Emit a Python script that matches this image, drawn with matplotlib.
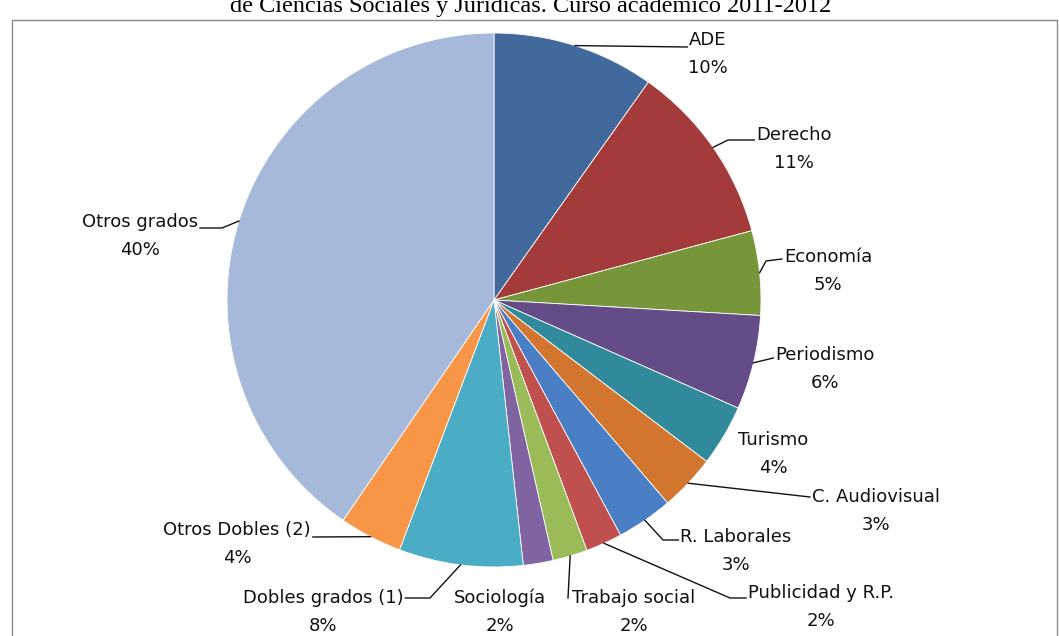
import numpy as np
import matplotlib
matplotlib.use("Agg")
import matplotlib.pyplot as plt
from matplotlib.patches import Rectangle

# Data (share of students, %)
categories = ['ADE', 'Derecho', 'Economía', 'Periodismo', 'Turismo', 'C. Audiovisual',
              'R. Laborales', 'Publicidad y R.P.', 'Trabajo social', 'Sociología',
              'Dobles grados (1)', 'Otros Dobles (2)', 'Otros grados']
values = [9.8, 11.0, 5.1, 5.7, 3.7, 3.4, 3.4, 2.2, 2.1, 1.8, 7.5, 3.8, 40.4]
colors = ['#41699B', '#A33B3A', '#77963A', '#644C86', '#31899C', '#D2752F',
          '#4A7FC6', '#C0504D', '#9BBB59', '#8064A2', '#4BACC6', '#F79646', '#A7B9DA']

W, H = 1059, 636
fig = plt.figure(figsize=(W / 100, H / 100), dpi=100)
ax = fig.add_axes([0, 0, 1, 1])

cx, cy, R = 494, H - 300, 267
wedges, _ = ax.pie(values, colors=colors, startangle=90, counterclock=False,
                   center=(cx, cy), radius=R, frame=True,
                   wedgeprops=dict(edgecolor='white', linewidth=0.6))
ax.set_xlim(0, W)
ax.set_ylim(0, H)
ax.set_aspect('equal')
ax.axis('off')

# plot area border (cut at the bottom like the original)
ax.add_patch(Rectangle((12, -10), 1045, H - 20 + 10, fill=False,
                       edgecolor='#8c8c8c', linewidth=1.0))

# title (top part is cropped in the original)
ax.text(531, H - 12, 'de Ciencias Sociales y Jurídicas. Curso académico 2011-2012',
        ha='center', va='baseline', fontsize=17.5, family='Liberation Serif')

# label placement in pixels from the top: text centre, leader elbows, y of last leg
layout = {
    'ADE': ((708, 40), [], 47),
    'Derecho': ((794, 135), [(728, 140)], 140),
    'Economía': ((828, 257), [(766, 261)], 259),
    'Periodismo': ((825, 355), [], 358),
    'Turismo': ((773, 440), None, None),
    'C. Audiovisual': ((876, 497), [], 497),
    'R. Laborales': ((736, 537), [(663, 540)], 540),
    'Publicidad y R.P.': ((821, 593), [(730, 598)], 598),
    'Trabajo social': ((634, 598), [(568, 598)], None),
    'Sociología': ((500, 598), None, None),
    'Dobles grados (1)': ((323, 598), [(430, 598)], 598),
    'Otros Dobles (2)': ((237, 530), [], 537),
    'Otros grados': ((140, 222), [(222, 228)], 228),
}

total = sum(values)
start = 90.0
font = dict(family='DejaVu Sans', fontsize=13, color='#111111')
fig.canvas.draw()
renderer = fig.canvas.get_renderer()
for cat, v in zip(categories, values):
    frac = v / total
    mid = np.deg2rad(start - frac * 360 / 2)
    start -= frac * 360
    (tx, ty), elbows, yend = layout[cat]
    t = ax.text(tx, H - ty, cat, ha='center', va='center', **font)
    ax.text(tx, H - ty - 28, f'{round(v)}%', ha='center', va='center', **font)
    if elbows is None:
        continue
    px = [cx + R * np.cos(mid)] + [e[0] for e in elbows]
    py = [cy + R * np.sin(mid)] + [H - e[1] for e in elbows]
    if yend is not None:
        bb = t.get_window_extent(renderer)
        px.append(bb.x0 - 2 if tx > px[-1] else bb.x1 + 2)
        py.append(H - yend)
    ax.plot(px, py, color='#111111', linewidth=1.0)

fig.savefig('out.png', dpi=100)
